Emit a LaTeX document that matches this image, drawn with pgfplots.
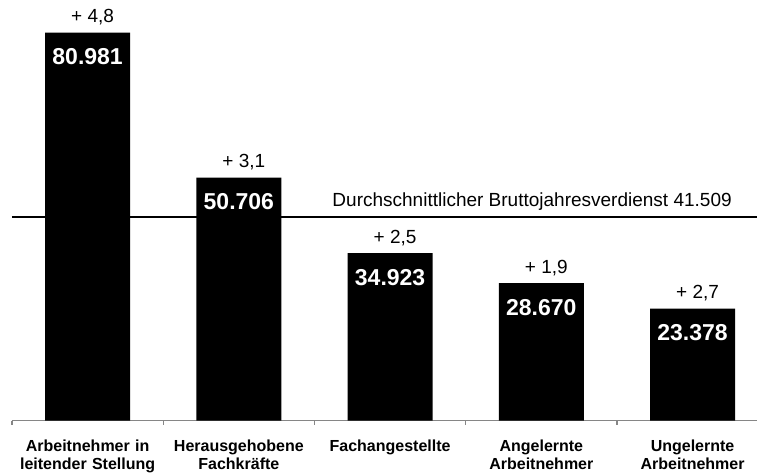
\documentclass[border=0pt]{standalone}
\usepackage{fontspec}
\setmainfont{Liberation Sans}
\usepackage{pgfplots}
\usepackage{pgfplotstable}
\pgfplotsset{compat=1.18}
\pgfplotstableread[col sep=semicolon]{
x;y;val;chg
0;80981;80.981;+ 4,8
1;50706;50.706;+ 3,1
2;34923;34.923;+ 2,5
3;28670;28.670;+ 1,9
4;23378;23.378;+ 2,7
}\datatable
\definecolor{axgray}{RGB}{134,134,134}
\begin{document}
\begin{tikzpicture}
\useasboundingbox (0,0) rectangle (757pt,475pt);
\begin{axis}[
 at={(12pt,54.5pt)}, anchor=south west,
 scale only axis, width=745pt, height=407.2pt,
 xmin=-0.5, xmax=4.426, ymin=0, ymax=85000,
 axis x line*=bottom, axis y line=none, ytick=\empty,
 x axis line style={draw=axgray, line width=1.2pt, -},
 xtick={0,...,4}, major tick length=0pt,
 xticklabels={Arbeitnehmer in\\leitender Stellung, Herausgehobene\\Fachkräfte, Fachangestellte, Angelernte\\Arbeitnehmer, Ungelernte\\Arbeitnehmer},
 minor xtick={-0.5,0.5,1.5,2.5,3.5},
 minor tick length=4pt, tick align=outside,
 minor tick style={draw=axgray, line width=1.2pt},
 xticklabel style={font=\bfseries\fontsize{16}{18.4}\selectfont, align=center, text width=150pt, anchor=north, inner sep=0pt, yshift=-19pt},
 clip=false,
]
\addplot[black, line width=2pt] coordinates {(-0.5,42500) (4.426,42500)};
\addplot[ybar, bar width=85pt, fill=black, draw=none, point meta=explicit symbolic, nodes near coords,
  every node near coord/.append style={anchor=north, yshift=-16pt, inner sep=0pt, text=white, font=\bfseries\fontsize{23}{27}\selectfont}]
  table[x=x, y=y, meta=val]{\datatable};
\addplot[draw=none, mark=none, point meta=explicit symbolic, nodes near coords,
  every node near coord/.append style={anchor=base, yshift=10pt, xshift=5pt, inner sep=0pt, text=black, font=\fontsize{19}{23}\selectfont}]
  table[x=x, y=y, meta=chg]{\datatable};
\node[anchor=base east, inner sep=0pt, font=\fontsize{19}{23}\selectfont, yshift=10pt] at (axis cs:4.26,42500) {Durchschnittlicher Bruttojahresverdienst 41.509};
\end{axis}
\end{tikzpicture}
\end{document}
